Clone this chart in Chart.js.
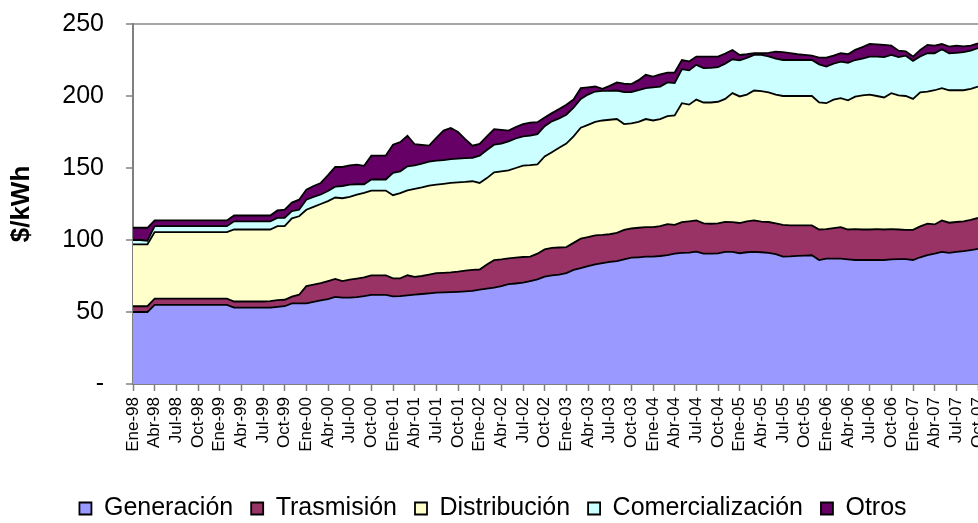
<!DOCTYPE html>
<html lang="es">
<head>
<meta charset="UTF-8">
<title>Componentes de la tarifa</title>
<script src="https://cdn.jsdelivr.net/npm/chart.js"></script>
<style>
  html, body { margin: 0; padding: 0; background: #fff; }
  #wrap { width: 978px; height: 523px; }
</style>
</head>
<body>
<div id="wrap"><canvas id="tarifaChart" width="978" height="523"></canvas></div>
<script>
// Meses Ene-98 ... Oct-07 (118 puntos)
const meses = ['Ene', 'Feb', 'Mar', 'Abr', 'May', 'Jun', 'Jul', 'Ago', 'Sep', 'Oct', 'Nov', 'Dic'];
const anios = ['98', '99', '00', '01', '02', '03', '04', '05', '06', '07'];
const etiquetas = anios.flatMap(a => meses.map(m => m + '-' + a)).slice(0, 118);

const generacion = [
  50, 50, 50, 55, 55, 55, 55, 55, 55, 55,
  55, 55, 55, 55, 53, 53, 53, 53, 53, 53,
  53.5, 54, 56, 56, 56, 57, 58, 59, 60.5, 60,
  60, 60.4, 61, 61.9, 61.9, 61.9, 60.8, 61, 61.5, 62,
  62.5, 63, 63.5, 63.6, 63.8, 64, 64.3, 64.6, 65.5, 66.2,
  66.9, 68, 69.3, 69.8, 70.4, 71.5, 72.7, 74.6, 75.5, 76,
  77, 79.2, 80.5, 81.8, 83.1, 84, 84.8, 85.4, 86.5, 87.7,
  88, 88.4, 88.5, 88.9, 89.5, 90.5, 91, 91.2, 91.9, 90.5,
  90.5, 90.7, 91.7, 91.7, 90.8, 91.5, 91.7, 91.5, 91, 90.2,
  88.4, 88.6, 89, 89.2, 89.4, 86.1, 87, 87, 87, 86.5,
  86.1, 86.1, 86.1, 86.1, 86.1, 86.5, 86.7, 86.7, 86.1, 88,
  89.5, 90.5, 91.7, 91, 91.8, 92.3, 93, 93.8
];

const trasmision = [
  4, 4, 4, 4.3, 4.3, 4.3, 4.3, 4.3, 4.3, 4.3,
  4.3, 4.3, 4.3, 4.3, 4.3, 4.3, 4.3, 4.3, 4.3, 4.5,
  4.7, 4.5, 4.7, 6, 12, 12, 12, 12.5, 12.5, 11.5,
  12.5, 12.8, 13, 13.6, 13.6, 13.6, 12.6, 12.4, 14, 12.4,
  12.5, 13, 13.5, 13.6, 13.7, 14, 14.4, 14.6, 14, 16.8,
  19.1, 18.5, 17.9, 17.9, 17.8, 17, 17.8, 18.9, 19.1, 18.8,
  18.1, 18.8, 20.4, 20.2, 20.1, 19.5, 19.2, 19.6, 20.5, 20.3,
  20.5, 20.5, 20.5, 20.7, 21.5, 20, 21.4, 21.8, 21.7, 21,
  20.8, 20.8, 20.9, 20.7, 21, 21.5, 21.9, 21.3, 21.5, 21.3,
  22.1, 21.5, 21.1, 20.9, 20.7, 21.2, 20.5, 21.3, 21.9, 20.8,
  21.4, 21.2, 21.2, 21.4, 21.2, 21, 20.6, 20.4, 21, 21.5,
  21.8, 20.3, 21.9, 21, 20.7, 20.7, 21, 21.5
];

const distribucion = [
  43, 43, 43, 46.2, 46.2, 46.2, 46.2, 46.2, 46.2, 46.2,
  46.2, 46.2, 46.2, 46.2, 50, 50, 50, 50, 50, 49.8,
  51.4, 51.1, 54.3, 54.5, 53, 54, 55, 55.5, 56.5, 57.5,
  57.5, 58.3, 58.7, 58.8, 58.8, 58.8, 57.7, 59.1, 59, 61.1,
  61.5, 61.8, 61.5, 61.8, 62.1, 62, 61.6, 61.6, 60.1, 60,
  61, 61.2, 61.2, 62.3, 63.5, 63.5, 62, 64.5, 66.4, 69.2,
  71.9, 74, 77.1, 78, 78.8, 79.5, 79.5, 79, 73.5, 73,
  73.5, 75.1, 74, 74.4, 75, 76, 82.6, 81, 83.9, 84,
  84.2, 84.5, 85.4, 89.6, 87.9, 88, 90.2, 90.6, 90, 89.5,
  89.5, 89.9, 89.9, 89.9, 89.9, 88.2, 87.5, 89.2, 89.6, 89.7,
  92, 93.2, 93.7, 92.5, 91.7, 94.5, 93.2, 92.9, 90.9, 93,
  91.7, 93.2, 91.9, 92, 91.5, 91, 91, 91.2
];

const comercializacion = [
  3, 3, 2.5, 4.1, 4.1, 4.1, 4.1, 4.1, 4.1, 4.1,
  4.1, 4.1, 4.1, 4.1, 5.7, 5.7, 5.7, 5.7, 5.7, 5.7,
  5.8, 5.8, 5, 4.5, 7, 7, 6.6, 7, 7.5, 8.5,
  8.5, 7.2, 6, 7.7, 7.7, 7.7, 15.5, 15.2, 16.7, 16.3,
  16.5, 16.7, 16.6, 16.5, 16.6, 16.5, 16.5, 16.2, 19, 19.5,
  19.2, 19.3, 20.1, 20.5, 20.3, 20.5, 21, 21, 21.4, 20.5,
  20, 20, 20, 21, 21.1, 20.5, 20, 19.8, 22.2, 21.7,
  22, 21.5, 23, 22.5, 23.4, 22.5, 23.6, 23.8, 24.1, 23.8,
  24, 24, 24.5, 23.5, 25, 25.5, 24.7, 25.1, 25, 25,
  25, 25, 25, 25, 25, 26.5, 25.4, 25, 25.4, 26,
  25.5, 25.5, 26.4, 27.4, 28, 26.5, 26.5, 28, 26.4, 25,
  26.7, 25.7, 27, 25.7, 26, 26.4, 26.5, 26.8
];

const otros = [
  8.5, 8.5, 9, 4, 4, 4, 4, 4, 4, 4,
  4, 4, 4, 4, 4, 4, 4, 4, 4, 4,
  5.1, 5.6, 6, 7, 7, 7.5, 8, 11, 13.7, 13.2,
  13.3, 13.7, 12.8, 16.6, 16.6, 16.6, 19.6, 20.3, 21.2, 14.7,
  13, 11, 15.9, 20.5, 21.6, 18.5, 13.2, 8.5, 8.1, 9.5,
  10.8, 9.5, 7.5, 8, 8.5, 9, 8.3, 6, 5.7, 6.5,
  6.9, 5.5, 7.5, 5, 3.5, 1.5, 3.5, 5.6, 5.8, 5.6,
  7, 9.2, 7.5, 8.5, 6.9, 7.3, 6.4, 6.2, 5.8, 8.1,
  7.9, 7.4, 7, 6.5, 3.8, 2.5, 1.2, 1.2, 2.5, 4.8,
  5.5, 4.7, 4, 3.5, 3, 4.7, 6.3, 5.5, 5.8, 6,
  7, 8, 8.7, 8.4, 8.5, 6.5, 4.5, 3, 3, 4.5,
  5.8, 5.3, 3.6, 4.6, 5, 4.1, 3.5, 3.2
];

Chart.defaults.font.family = '"Liberation Sans", Arial, sans-serif';
Chart.defaults.color = '#000';

function serie(label, data, color, fill) {
  return {
    label: label,
    data: data,
    backgroundColor: color,
    borderColor: '#000',
    borderWidth: 1.8,
    pointRadius: 0,
    tension: 0,
    fill: fill
  };
}

// mueve un poco la leyenda para que quede como en el original
const ajusteLeyenda = {
  id: 'ajusteLeyenda',
  afterLayout(chart) {
    const lg = chart.legend;
    lg.left += 4; lg.right += 4;
    lg.top += 8; lg.bottom += 8;
  }
};

const ctx = document.getElementById('tarifaChart').getContext('2d');
new Chart(ctx, {
  type: 'line',
  data: {
    labels: etiquetas,
    datasets: [
      serie('Generación', generacion, '#9999FF', 'origin'),
      serie('Trasmisión', trasmision, '#993366', '-1'),
      serie('Distribución', distribucion, '#FFFFCC', '-1'),
      serie('Comercialización', comercializacion, '#CCFFFF', '-1'),
      serie('Otros', otros, '#660066', '-1')
    ]
  },
  options: {
    responsive: false,
    animation: false,
    layout: { padding: { left: 0, right: 0, top: 24, bottom: 0 } },
    plugins: {
      legend: {
        position: 'bottom',
        labels: {
          boxWidth: 12,
          boxHeight: 12,
          padding: 18,
          font: { size: 25 }
        }
      },
      tooltip: { enabled: false }
    },
    scales: {
      x: {
        offset: false,
        border: { color: '#808080', width: 2 },
        grid: { drawOnChartArea: false, tickLength: 7, tickColor: '#808080', tickWidth: 1.5 },
        ticks: {
          autoSkip: false,
          minRotation: 90,
          maxRotation: 90,
          padding: 6,
          font: { size: 17 },
          callback: function (v, i) { return i % 3 === 0 ? this.getLabelForValue(v) : null; }
        },
        afterFit(s) { s.height = 86; s.paddingLeft = 0; s.paddingRight = 0; }
      },
      y: {
        stacked: true,
        min: 0,
        max: 250,
        border: { color: '#808080', width: 2 },
        grid: {
          tickLength: 7,
          tickColor: '#808080',
          tickWidth: 1.5,
          lineWidth: 2,
          color: c => (c.tick && c.tick.value === 250) ? '#a6a6a6' : 'rgba(0,0,0,0)'
        },
        ticks: {
          stepSize: 50,
          padding: 22,
          font: { size: 25 },
          callback: v => v === 0 ? '-' : v
        },
        title: {
          display: true,
          text: '$/kWh',
          font: { size: 26, weight: 'bold' },
          padding: { top: 6, bottom: 0 }
        },
        afterFit(s) { s.width = 133; s.paddingTop = 0; s.paddingBottom = 0; }
      }
    }
  },
  plugins: [ajusteLeyenda]
});
</script>
</body>
</html>
